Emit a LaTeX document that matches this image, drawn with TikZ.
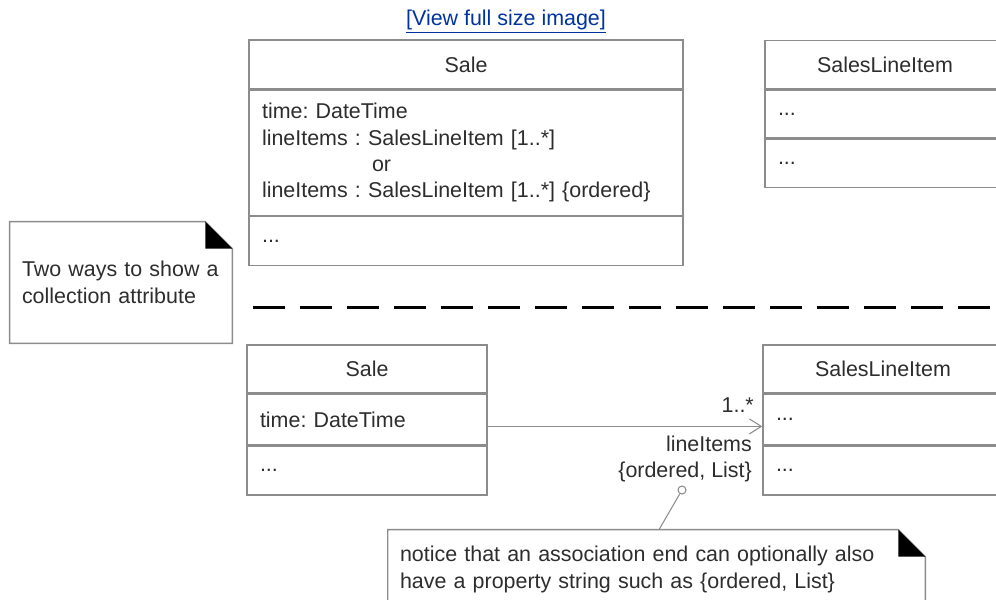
\documentclass[tikz,border=0pt]{standalone}
\usepackage{fontspec}
\setmainfont{Liberation Sans}
\usetikzlibrary{positioning,arrows.meta}
\definecolor{textgray}{RGB}{ 45, 45, 45}
\definecolor{boxgray}{RGB}{140,140,140}
\definecolor{linkblue}{RGB}{  0, 51,160}
\newcommand{\umlfont}{\fontsize{12.2pt}{15pt}\selectfont\frenchspacing}

\begin{document}
\begin{tikzpicture}[x=0.02cm, y=-0.02cm, node distance=0pt,
  every node/.style={font=\umlfont, text=textgray},
  cname/.style={draw=boxgray, line width=0.8pt, inner xsep=0.26cm, inner ysep=2pt,
                align=center, minimum height=0.98cm},
  cbody/.style={draw=boxgray, line width=0.8pt, inner xsep=0.26cm, inner ysep=2pt,
                align=left},
  widebox/.style={text width=8.16cm},
  narrowbox/.style={text width=4.28cm},
  notebox/.style={inner xsep=0.24cm, inner ysep=0pt, align=left},
  noteline/.style={draw=boxgray, line width=0.8pt},
  divider/.style={draw=black, line width=1.7pt, dash pattern=on 0.64cm off 0.3cm},
  assoc/.style={draw=boxgray, line width=0.6pt,
                -{Straight Barb[length=0.24cm, width=0.3cm]}}
]
  \useasboundingbox (0,0) rectangle (996,599);
  \clip (0,0) rectangle (996,599);

  \node[text=linkblue] (viewlink) at (506,22) {\underline{[View full size image]}};

  % upper variant: attribute text
  \node[cname, widebox] (saleA) at (466,64.5) {Sale};
  \node[cbody, widebox, minimum height=2.5cm, below=of saleA] (saleA-attr)
    {time: DateTime\\lineItems : SalesLineItem [1..*]\\\hspace*{2.2cm}or\\
     lineItems : SalesLineItem [1..*] \{ordered\}};
  \node[cbody, widebox, minimum height=0.98cm, below=of saleA-attr] (saleA-ops) {...};

  \node[cname, narrowbox, minimum height=0.96cm] (sliA) at (885,64.5) {SalesLineItem};
  \node[cbody, narrowbox, minimum height=0.96cm, below=of sliA] (sliA-attr) {...};
  \node[cbody, narrowbox, minimum height=0.96cm, below=of sliA-attr] (sliA-ops) {...};

  \node[notebox, text width=3.96cm, minimum height=2.42cm] (twoways) at (121,282.5)
    {Two ways to show a\\collection attribute};
  \draw[noteline] (twoways.north west) -- ([xshift=-0.54cm]twoways.north east)
    -- ([yshift=-0.54cm]twoways.north east) -- (twoways.south east)
    -- (twoways.south west) -- cycle;
  \fill ([xshift=-0.54cm]twoways.north east) -- ([xshift=-0.54cm,yshift=-0.54cm]twoways.north east)
    -- ([yshift=-0.54cm]twoways.north east) -- cycle;

  \draw[divider] (253,307) -- (996,307);

  % lower variant: association end
  \node[cname, narrowbox, minimum height=0.96cm] (saleB) at (367,369) {Sale};
  \node[cbody, narrowbox, minimum height=1.0cm, below=of saleB] (saleB-attr) {time: DateTime};
  \node[cbody, narrowbox, minimum height=0.98cm, below=of saleB-attr] (saleB-ops) {...};

  \node[cname, narrowbox, minimum height=0.96cm] (sliB) at (883,369) {SalesLineItem};
  \node[cbody, narrowbox, minimum height=1.0cm, below=of sliB] (sliB-attr) {...};
  \node[cbody, narrowbox, minimum height=0.98cm, below=of sliB-attr] (sliB-ops) {...};

  \draw[assoc] ([yshift=-0.14cm]saleB-attr.east) -- ([yshift=-0.14cm]sliB-attr.west)
    node[pos=1, anchor=south east, inner sep=0pt, xshift=-0.16cm, yshift=0.26cm] (mult) {1..*}
    node[pos=1, anchor=north east, inner sep=0pt, xshift=-0.2cm, yshift=-0.18cm, align=right] (role)
      {lineItems\\\{ordered, List\}};

  \node[notebox, text width=10.26cm, minimum height=1.58cm] (propnote) at (656.5,569.5)
    {notice that an association end can optionally also\\
     have a property string such as \{ordered, List\}};
  \draw[noteline] (propnote.north west) -- ([xshift=-0.54cm]propnote.north east)
    -- ([yshift=-0.54cm]propnote.north east) -- (propnote.south east)
    -- (propnote.south west) -- cycle;
  \fill ([xshift=-0.54cm]propnote.north east) -- ([xshift=-0.54cm,yshift=-0.54cm]propnote.north east)
    -- ([yshift=-0.54cm]propnote.north east) -- cycle;

  \node[circle, draw=boxgray, line width=0.6pt, minimum size=0.16cm, inner sep=0pt] (pin) at (682,490) {};
  \draw[noteline, line width=0.6pt] (pin) -- ([xshift=0.05cm]propnote.north);
\end{tikzpicture}
\end{document}
